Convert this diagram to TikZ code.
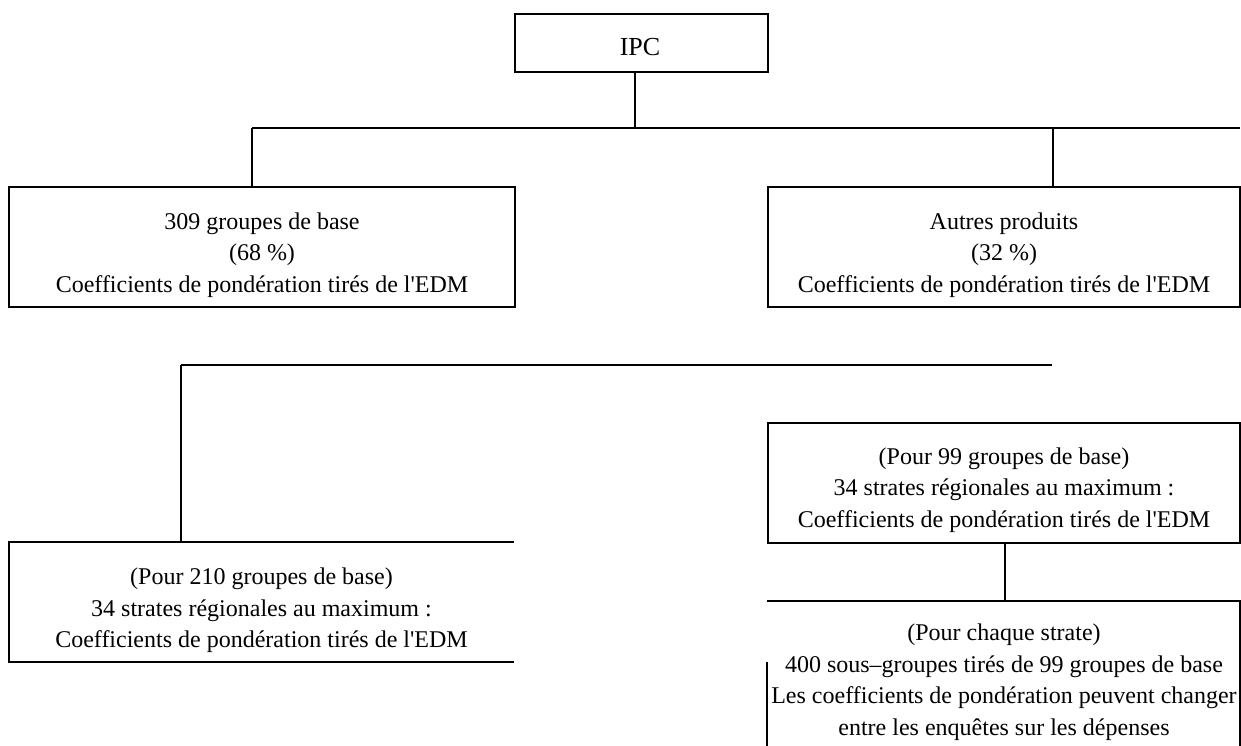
\documentclass[tikz,border=0pt]{standalone}
\usepackage{fontspec}
\setmainfont{Liberation Serif}
\usetikzlibrary{calc}
\begin{document}
\begin{tikzpicture}[x=1pt,y=-1pt,
  line width=2pt,
  boxshape/.style={rectangle,inner sep=0pt,outer sep=0pt},
  framed/.style={boxshape,draw},
  txt/.style={align=center,inner sep=0pt,font=\fontsize{24}{31.5}\selectfont},
  link/.style={draw,line width=2pt}]
\useasboundingbox (0,0) rectangle (1241,746);

% boxes
\node[framed,minimum width=253pt,minimum height=58pt] (ipc) at (641.5,43) {};
\node[framed,minimum width=506pt,minimum height=120pt] (b1) at (262,247) {};
\node[framed,minimum width=472pt,minimum height=120pt] (b2) at (1004,247) {};
\node[framed,minimum width=472pt,minimum height=120pt] (b3) at (1004,483) {};
\node[boxshape,minimum width=505pt,minimum height=120pt] (ll) at (261.5,602) {};
\node[boxshape,minimum width=473pt,minimum height=145pt] (b4) at (1003.5,673.5) {};

% open frames
\draw (ll.north east) -- (ll.north west) -- (ll.south west) -- (ll.south east);
\coordinate (b4l) at (767,662);
\draw (b4.south east) -- (b4.north east) -- (b4.north west);
\draw (b4l) -- (b4l |- b4.south);

% texts
\node[txt,font=\fontsize{26}{31.5}\selectfont] (tipc) at (640,47.5) {IPC};
\node[txt] (t1) at (262,255) {309 groupes de base\\(68 \%)\\Coefficients de pondération tirés de l\textquotesingle EDM};
\node[txt] (t2) at (1004,255) {Autres produits\\(32 \%)\\Coefficients de pondération tirés de l\textquotesingle EDM};
\node[txt] (t3) at (1004,490) {(Pour 99 groupes de base)\\34 strates régionales au maximum :\\Coefficients de pondération tirés de l\textquotesingle EDM};
\node[txt] (tll) at (261.5,610.5) {(Pour 210 groupes de base)\\34 strates régionales au maximum :\\Coefficients de pondération tirés de l\textquotesingle EDM};
\node[txt] (t4) at (1004,682) {(Pour chaque strate)\\400 sous–groupes tirés de 99 groupes de base\\Les coefficients de pondération peuvent changer\\entre les enquêtes sur les dépenses};

% connectors, upper level
\coordinate (j0) at (635,128);
\coordinate (jl) at (252,128);
\coordinate (jr) at (1240,128);
\coordinate (jb2) at (1053,128);
\draw[link] (ipc.south -| j0) -- (j0);
\draw[link] (jl) -- (jr);
\draw[link] (jl) -- (jl |- b1.north);
\draw[link] (jb2) -- (jb2 |- b2.north);

% connectors, lower level
\coordinate (kl) at (181,365);
\coordinate (kr) at (1052,365);
\draw[link] (kl) -- (kr);
\draw[link] (kl) -- (kl |- ll.north);
\coordinate (k3) at (1005,543);
\draw[link] (b3.south -| k3) -- (k3 |- b4.north);
\end{tikzpicture}
\end{document}
